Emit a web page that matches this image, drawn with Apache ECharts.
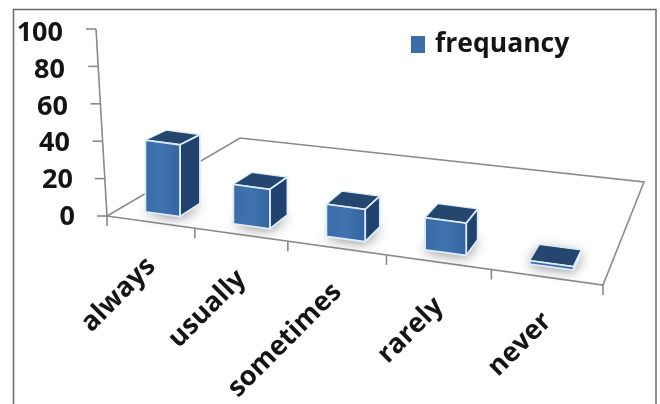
<!DOCTYPE html>
<html><head><meta charset="utf-8">
<style>html,body{margin:0;padding:0;background:#fff}#c{width:660px;height:404px}</style>
<script src="https://cdn.jsdelivr.net/npm/echarts@6/dist/echarts.min.js"></script>
</head><body><div id="c"></div>
<script>
const categories = ['always','usually','sometimes','rarely','never'];
const frequency = [40,22,18,18,2];
const yTicks = [0,20,40,60,80,100];
const seriesName = 'frequancy';

const FONT = '"Open Sans", sans-serif';
const INK = '#141414';
const LINE = '#8a8a8a';
const G = {left:107, top:29, width:496, height:187};
// perspective floor: unit square -> quad
const Q = {x0:107,y0:216,x1:603,y1:285,x2:644,y2:182,x3:240,y3:138};
const H = (function(){
  const dx1=Q.x1-Q.x2, dx2=Q.x3-Q.x2, sx=Q.x0-Q.x1+Q.x2-Q.x3;
  const dy1=Q.y1-Q.y2, dy2=Q.y3-Q.y2, sy=Q.y0-Q.y1+Q.y2-Q.y3;
  const det=dx1*dy2-dx2*dy1;
  const g=(sx*dy2-dx2*sy)/det, h=(dx1*sy-sx*dy1)/det;
  return {g,h,a:Q.x1-Q.x0+g*Q.x1,b:Q.x3-Q.x0+h*Q.x3,d:Q.y1-Q.y0+g*Q.y1,e:Q.y3-Q.y0+h*Q.y3};
})();
function proj(u,v){
  const w=H.g*u+H.h*v+1;
  return [(H.a*u+H.b*v+Q.x0)/w,(H.d*u+H.e*v+Q.y0)/w];
}
const BAR_DU=0.04, V_FRONT=0.08, V_BACK=0.22;
const HS_FRONT=0.96, HS_BACK=0.92;

function renderBar(params, api){
  const i=api.value(0), val=api.value(1);
  const cs=params.coordSys;
  const base=api.coord([i,0]), top=api.coord([i,val]);
  const u=(base[0]-cs.x)/cs.width;
  const px=base[1]-top[1];
  const fl=proj(u-BAR_DU,V_FRONT), fr=proj(u+BAR_DU,V_FRONT), br=proj(u+BAR_DU,V_BACK), bl=proj(u-BAR_DU,V_BACK);
  const up=(p,s)=>[p[0],p[1]-px*s];
  const tfl=up(fl,HS_FRONT), tfr=up(fr,HS_FRONT), tbr=up(br,HS_BACK), tbl=up(bl,HS_BACK);
  const edge={stroke:'#dcecf8',lineWidth:1.8,lineJoin:'round'};
  const tick=proj(u,0);
  return {type:'group',children:[
    {type:'polygon',shape:{points:[fl,fr,br,bl]},style:{fill:'#cfd3d8',shadowBlur:13,shadowColor:'rgba(40,40,40,.6)',shadowOffsetX:0,shadowOffsetY:1}},
    {type:'polygon',shape:{points:[tfl,tfr,tbr,tbl]},style:Object.assign({fill:'#25466f'},edge,{lineWidth:1.2})},
    {type:'polygon',shape:{points:[fr,br,tbr,tfr]},style:Object.assign({fill:'#21426f'},edge)},
    {type:'polygon',shape:{points:[fl,fr,tfr,tfl]},style:Object.assign({fill:{type:'linear',x:0,y:0,x2:1,y2:0,colorStops:[{offset:0,color:'#3a6ca9'},{offset:.5,color:'#3f72af'},{offset:1,color:'#34649f'}]}},edge)},
    {type:'text',x:tick[0]+1,y:tick[1]+40,rotation:Math.PI/4,style:{text:categories[i],align:'right',verticalAlign:'middle',fontFamily:FONT,fontWeight:700,fontSize:27,fill:INK}}
  ]};
}
function renderFloor(params, api){
  const cs=params.coordSys;
  const st={stroke:LINE,lineWidth:1.6,fill:null};
  const kids=[{type:'polygon',shape:{points:[[Q.x0,Q.y0],[Q.x1,Q.y1],[Q.x2,Q.y2],[Q.x3,Q.y3]]},style:{fill:'#fff',stroke:LINE,lineWidth:1.6}}];
  categories.concat(['']).forEach((c,i)=>{
    const x=i===categories.length?cs.x+cs.width:api.coord([i,0])[0]-api.size([1,0])[0]/2;
    const p=proj((x-cs.x)/cs.width,0);
    kids.push({type:'line',shape:{x1:p[0],y1:p[1],x2:p[0],y2:p[1]+10},style:st});
  });
  const y0=api.coord([0,yTicks[0]])[1], y1=api.coord([0,yTicks[yTicks.length-1]])[1];
  const tilt=v=>cs.x-(v/100)*11;
  kids.push({type:'line',shape:{x1:tilt(0),y1:y0,x2:tilt(100),y2:y1},style:st});
  yTicks.forEach(v=>{
    const y=api.coord([0,v])[1];
    kids.push({type:'line',shape:{x1:tilt(v)-10,y1:y,x2:tilt(v),y2:y},style:st});
  });
  return {type:'group',children:kids};
}
const rich={};
yTicks.forEach(v=>{rich['r'+v]={fontFamily:FONT,fontWeight:700,fontSize:27,color:INK,padding:[Math.round(3+v*0.06),Math.round(v*0.12),0,0]};});

const chart=echarts.init(document.getElementById('c'),null,{renderer:'canvas'});
chart.setOption({
  animation:false,
  backgroundColor:'#fff',
  grid:Object.assign({},G),
  graphic:[{type:'rect',z:-1,shape:{x:13.5,y:9.5,width:642.5,height:410},style:{fill:'#fff',stroke:'#6a6a6a',lineWidth:1.5}}],
  legend:{data:[{name:seriesName,icon:'rect'}],left:406,top:26,itemWidth:14,itemHeight:17,itemGap:5,selectedMode:false,
    textStyle:{fontFamily:FONT,fontWeight:700,fontSize:26.5,color:INK,padding:[0,0,0,5]}},
  xAxis:{type:'category',data:categories,axisLine:{show:false},axisTick:{show:false},axisLabel:{show:false},splitLine:{show:false}},
  yAxis:{type:'value',min:0,max:100,interval:20,axisLine:{show:false},axisTick:{show:false},splitLine:{show:false},
    axisLabel:{margin:32,formatter:v=>'{r'+v+'|'+v+'}',rich:rich}},
  series:[
    {type:'custom',name:'floor',silent:true,z:1,renderItem:renderFloor,data:[[0,0]],encode:{x:0,y:1}},
    {type:'custom',name:seriesName,z:2,itemStyle:{color:'#3a6ca9'},renderItem:renderBar,
      data:frequency.map((v,i)=>[i,v]),encode:{x:0,y:1}}
  ]
});
</script></body></html>
